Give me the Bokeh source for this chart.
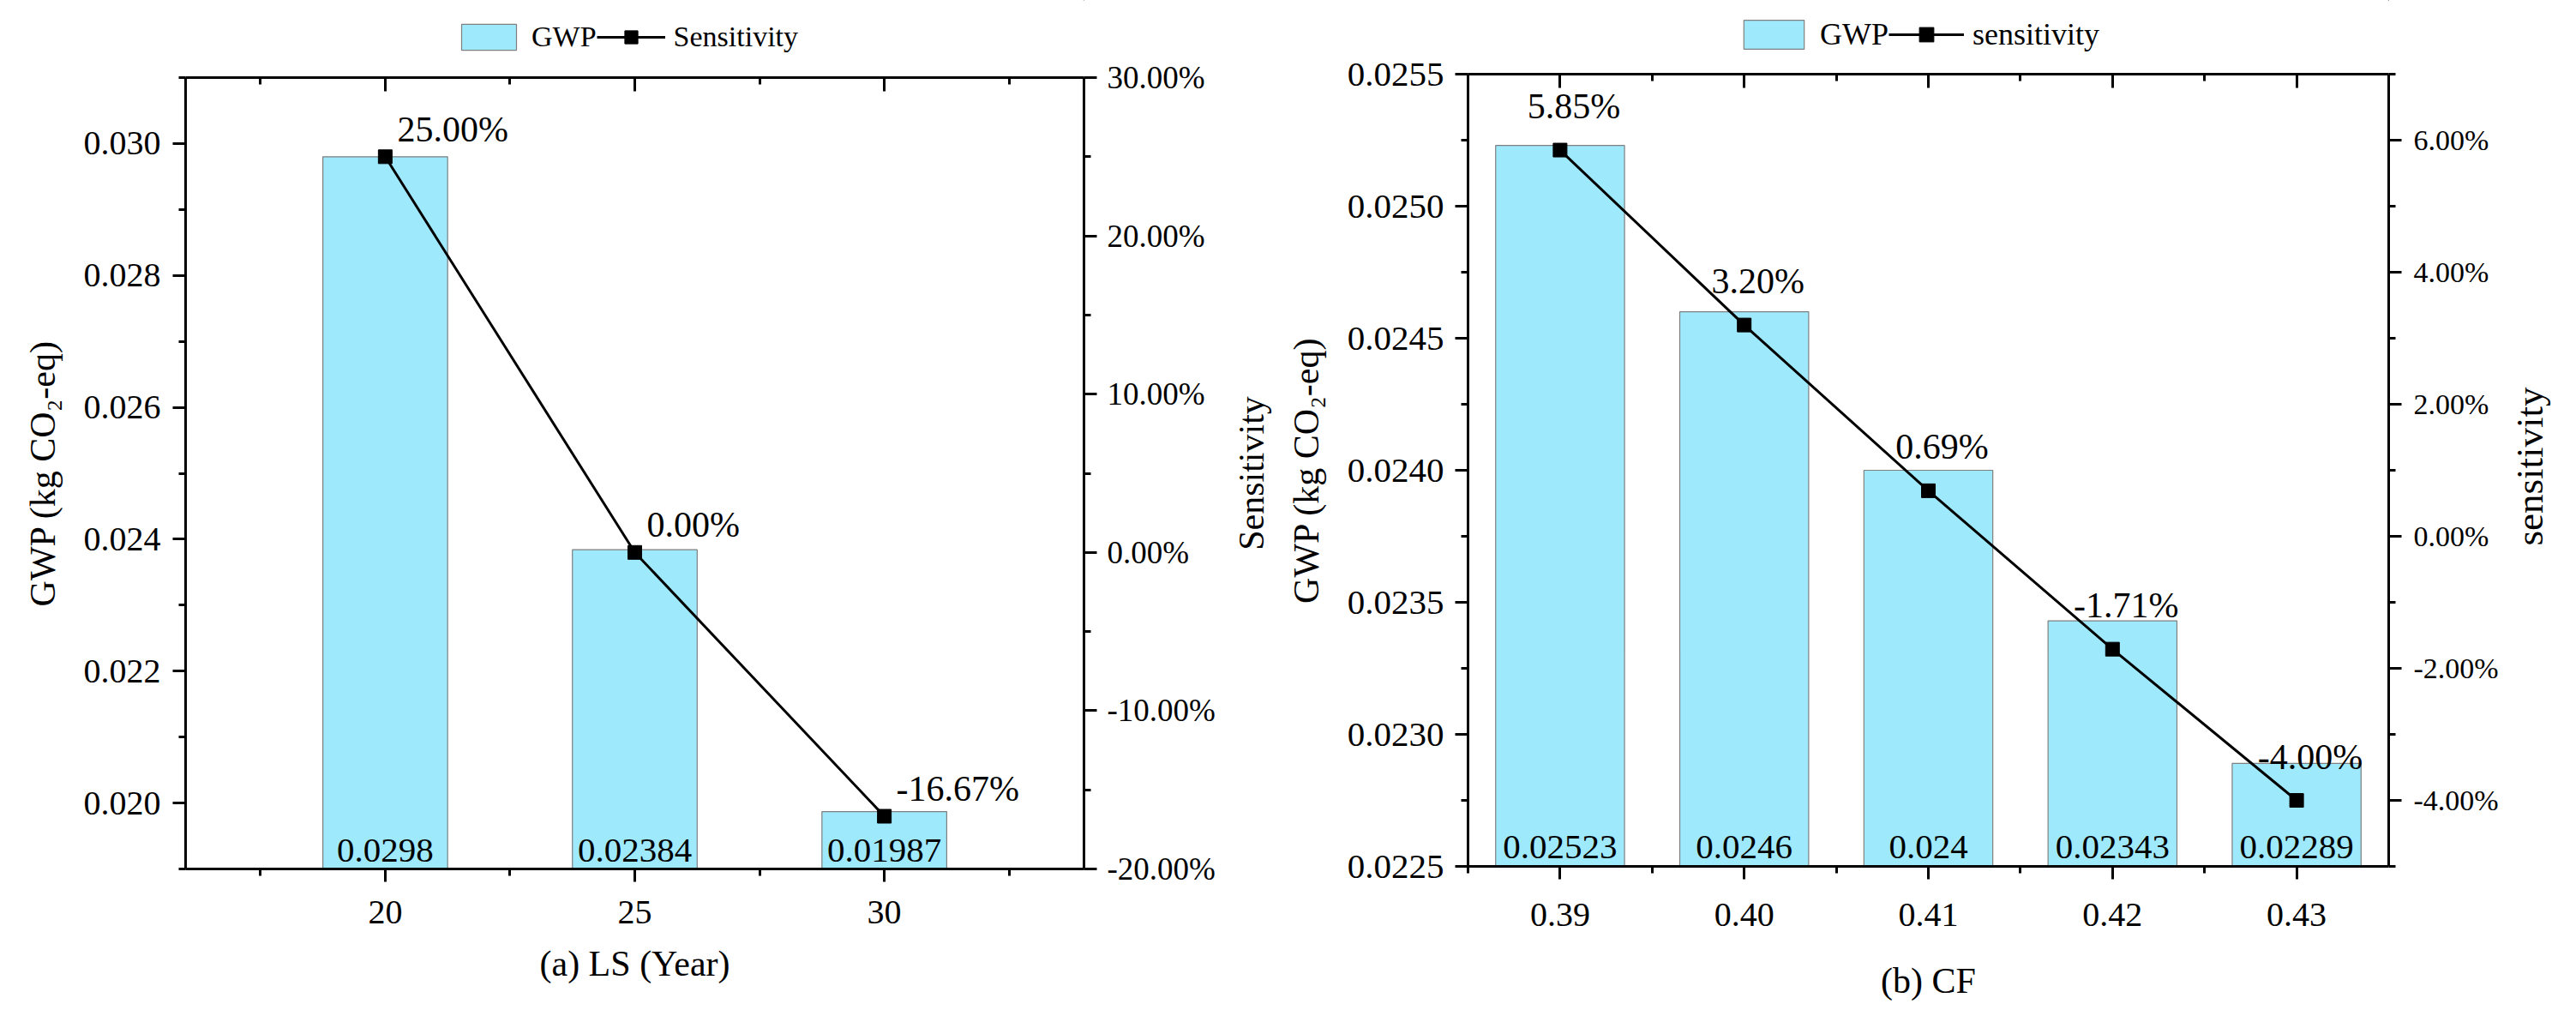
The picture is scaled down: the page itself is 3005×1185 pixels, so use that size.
import numpy as np
from math import pi
from bokeh.plotting import figure
from bokeh.models import (Range1d, LinearAxis, FixedTicker, PrintfTickFormatter,
                          ColumnDataSource, LabelSet, Label, Legend, LegendItem)
from bokeh.layouts import row, column
from bokeh.core.properties import value
from bokeh.embed import file_html
from bokeh.resources import INLINE

FONT = "Liberation Serif"
BAR_FILL = "#9FE9FD"
BAR_LINE = "#7F7F7F"

# ---------------- Panel (a): LS (Year) ----------------
ls_years = [20, 25, 30]
ls_gwp = [0.0298, 0.02384, 0.01987]
ls_sens = [25.00, 0.00, -16.67]
ls_xticks = [20, 25, 30]
ls_yticks = [0.020, 0.022, 0.024, 0.026, 0.028, 0.030]
ls_sticks = [-20, -10, 0, 10, 20, 30]

# ---------------- Panel (b): CF ----------------
cf_values = [0.39, 0.40, 0.41, 0.42, 0.43]
cf_gwp = [0.02523, 0.0246, 0.024, 0.02343, 0.02289]
cf_sens = [5.85, 3.20, 0.69, -1.71, -4.00]
cf_xticks = [0.39, 0.40, 0.41, 0.42, 0.43]
cf_yticks = [0.0225, 0.0230, 0.0235, 0.0240, 0.0245, 0.0250, 0.0255]
cf_sticks = [-4, -2, 0, 2, 4, 6]

LEG_H = 62
TOTAL_H = 1169


def minors(ticks, lo, hi):
    step = ticks[1] - ticks[0]
    cand = [ticks[0] + step * (k + 0.5) for k in range(-3, len(ticks) + 3)]
    eps = step * 1e-3
    return [c for c in cand if lo - eps <= c <= hi + eps]


def make_legend_fig(cfg):
    # a thin strip above the panel that only carries the legend
    q = figure(width=cfg["width"], height=LEG_H, output_backend="svg",
               toolbar_location=None, x_axis_type=None, y_axis_type=None,
               x_range=Range1d(-2, -1), y_range=Range1d(-2, -1),
               min_border_left=cfg["mb"][0], min_border_right=cfg["mb"][1],
               min_border_top=0, min_border_bottom=0)
    q.outline_line_color = None
    q.xgrid.visible = False
    q.ygrid.visible = False
    src = ColumnDataSource(dict(x=cfg["x"], gwp=cfg["gwp"], sens=cfg["sens"]))
    b = q.vbar(x="x", top="gwp", bottom=0, width=cfg["bar_w"], source=src,
               fill_color=BAR_FILL, line_color=BAR_LINE, line_width=1.2)
    ln = q.line(x="x", y="sens", source=src, line_color="black", line_width=3)
    sc = q.scatter(x="x", y="sens", source=src, marker="square", size=16,
                   fill_color="black", line_color="black")
    legend = Legend(items=[LegendItem(label="GWP", renderers=[b]),
                           LegendItem(label=cfg["slabel"], renderers=[ln, sc])],
                    location=cfg["leg_loc"], orientation="horizontal",
                    glyph_width=cfg["leg_gw"], glyph_height=cfg["leg_gh"],
                    label_standoff=10, spacing=0, padding=0, margin=0,
                    border_line_color=None, background_fill_alpha=0,
                    label_text_font=FONT, label_text_font_size=cfg["leg_fs"],
                    label_text_color="black")
    q.add_layout(legend)
    return q


def make_panel(cfg):
    xr, yr, sr = cfg["xr"], cfg["yr"], cfg["sr"]
    p = figure(width=cfg["width"], height=TOTAL_H - LEG_H, output_backend="svg",
               toolbar_location=None, x_axis_type=None, y_axis_type=None,
               x_range=Range1d(*xr), y_range=Range1d(*yr),
               min_border_left=cfg["mb"][0], min_border_right=cfg["mb"][1],
               min_border_top=cfg["mb"][2], min_border_bottom=cfg["mb"][3])
    p.extra_y_ranges = {"sens": Range1d(*sr)}
    p.outline_line_color = None
    p.xgrid.visible = False
    p.ygrid.visible = False
    p.background_fill_color = "white"
    p.border_fill_color = "white"

    xt = FixedTicker(ticks=cfg["xticks"], minor_ticks=minors(cfg["xticks"], *xr))
    yt = FixedTicker(ticks=cfg["yticks"], minor_ticks=minors(cfg["yticks"], *yr))
    st = FixedTicker(ticks=cfg["sticks"], minor_ticks=minors(cfg["sticks"], *sr))

    def style(ax, fs):
        ax.axis_line_width = 3
        ax.major_tick_line_width = 3
        ax.minor_tick_line_width = 3
        ax.axis_line_color = "black"
        ax.major_tick_line_color = "black"
        ax.minor_tick_line_color = "black"
        ax.major_label_text_font = FONT
        ax.major_label_text_font_size = fs
        ax.major_label_text_color = "black"
        ax.axis_label_text_font = FONT
        ax.axis_label_text_font_style = "normal"
        ax.axis_label_text_font_size = "42px"
        ax.axis_label_text_color = "black"
        ax.major_tick_in = 0
        ax.major_tick_out = 15
        ax.minor_tick_in = 0
        ax.minor_tick_out = 8

    # bottom axis
    xb = LinearAxis(ticker=xt, formatter=PrintfTickFormatter(format=cfg["xfmt"]),
                    axis_label=cfg["xlabel"])
    style(xb, "40px")
    xb.major_label_standoff = cfg["xstand"]
    xb.axis_label_standoff = cfg["xlab_stand"]
    p.add_layout(xb, "below")

    # top axis (ticks inward, no labels)
    xtop = LinearAxis(ticker=xt)
    style(xtop, "0px")
    xtop.major_tick_in = 16
    xtop.major_tick_out = 0
    xtop.minor_tick_in = 8
    xtop.minor_tick_out = 0
    xtop.major_label_standoff = 0
    xtop.major_label_text_alpha = 0
    p.add_layout(xtop, "above")

    # left axis
    yl = LinearAxis(ticker=yt, formatter=PrintfTickFormatter(format=cfg["yfmt"]),
                    axis_label="GWP (kg CO\u2082-eq)")
    style(yl, cfg["yfs"])
    yl.major_label_standoff = cfg["ystand"]
    yl.axis_label_standoff = cfg["ylab_stand"]
    p.add_layout(yl, "left")

    # right axis (sensitivity)
    yrax = LinearAxis(y_range_name="sens", ticker=st,
                      formatter=PrintfTickFormatter(format="%.2f%%"))
    style(yrax, cfg["sfs"])
    yrax.major_label_standoff = cfg["sstand"]
    p.add_layout(yrax, "right")

    # right axis title, reading bottom-to-top, in the right side panel
    p.add_layout(Label(x=cfg["slabel_x"], y=cfg["frame_h"] / 2,
                       x_units="screen", y_units="screen",
                       text=cfg["slabel"], angle=pi / 2, text_align="center",
                       text_baseline="middle", text_font=FONT,
                       text_font_size=cfg["slabel_fs"], text_color="black"),
                 "right")

    # bars
    src = ColumnDataSource(dict(x=cfg["x"], gwp=cfg["gwp"],
                                glab=[repr(v) for v in cfg["gwp"]],
                                base=[yr[0]] * len(cfg["x"]),
                                sens=cfg["sens"],
                                slab=["%.2f%%" % v for v in cfg["sens"]]))
    p.vbar(x="x", top="gwp", bottom=0, width=cfg["bar_w"], source=src,
           fill_color=BAR_FILL, line_color=BAR_LINE, line_width=1.2)

    # bar value labels
    p.add_layout(LabelSet(x="x", y="base", text="glab", source=src,
                          text_align="center", text_baseline="alphabetic",
                          y_offset=cfg["bar_lab_off"], text_font=value(FONT),
                          text_font_size="41px", text_color="black"))

    # sensitivity line
    p.line(x="x", y="sens", source=src, y_range_name="sens",
           line_color="black", line_width=3)
    p.scatter(x="x", y="sens", source=src, y_range_name="sens",
              marker="square", size=16, fill_color="black", line_color="black")

    p.add_layout(LabelSet(x="x", y="sens", y_range_name="sens", text="slab", source=src,
                          text_align=cfg["slab_align"], text_baseline="alphabetic",
                          x_offset=cfg["slab_dx"], y_offset=cfg["slab_dy"],
                          text_font=value(FONT), text_font_size="42px",
                          text_color="black"))
    return p


cfg_a = dict(x=ls_years, gwp=ls_gwp, sens=ls_sens,
             xticks=ls_xticks, yticks=ls_yticks, sticks=ls_sticks,
             xr=(16, 34), yr=(0.019, 0.031), sr=(-20, 30), bar_w=2.5,
             xfmt="%d", yfmt="%.3f", xlabel="(a) LS (Year)",
             width=1492, mb=(216, 228, 28, 156), frame_h=923,
             xstand=22, xlab_stand=21, yfs="40px", ystand=14, ylab_stand=22,
             sfs="37px", sstand=12, slabel_x=39, slabel_fs="42px",
             bar_lab_off=9, slab_align="left", slab_dx=14, slab_dy=18,
             slabel="Sensitivity",
             leg_loc=(314, 0), leg_gw=80, leg_gh=38, leg_fs="34px")

cfg_b = dict(x=cf_values, gwp=cf_gwp, sens=cf_sens,
             xticks=cf_xticks, yticks=cf_yticks, sticks=cf_sticks,
             xr=(0.385, 0.435), yr=(0.0225, 0.0255), sr=(-5, 7), bar_w=0.007,
             xfmt="%.2f", yfmt="%.4f", xlabel="(b) CF",
             width=1497, mb=(220, 203, 24, 150), frame_h=933,
             xstand=28, xlab_stand=38, yfs="41px", ystand=13, ylab_stand=22,
             sfs="34px", sstand=14, slabel_x=33, slabel_fs="45px",
             bar_lab_off=10, slab_align="center", slab_dx=16, slab_dy=37,
             slabel="sensitivity",
             leg_loc=(313, 1), leg_gw=88, leg_gh=42, leg_fs="36px")

col_a = column(make_legend_fig(cfg_a), make_panel(cfg_a))
col_b = column(make_legend_fig(cfg_b), make_panel(cfg_b))
layout = row(col_a, col_b)

open("out.html", "w").write(file_html(layout, INLINE))
